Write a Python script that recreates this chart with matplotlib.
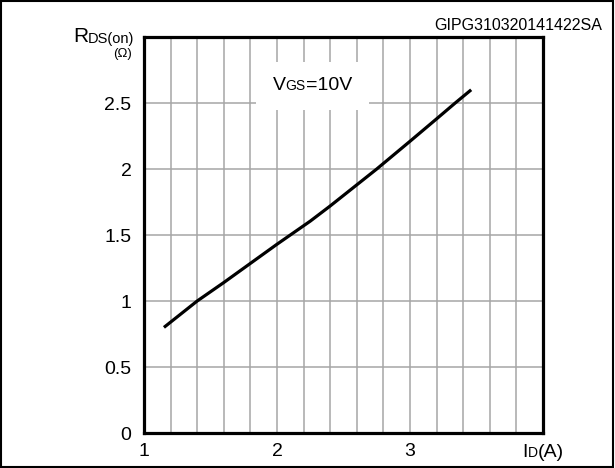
import matplotlib
matplotlib.use("Agg")
import matplotlib.pyplot as plt
import matplotlib.patches as patches
from matplotlib.offsetbox import TextArea, HPacker, AnnotationBbox
import numpy as np

# ==========================================
# DATA
# ==========================================

id_amps = [1.15, 1.40, 1.60, 1.80, 2.00, 2.10, 2.25, 2.40, 2.55, 2.75, 3.00, 3.20, 3.34, 3.46]
rds_on = [0.80, 1.00, 1.14, 1.285, 1.43, 1.50, 1.605, 1.72, 1.84, 2.00, 2.21, 2.38, 2.50, 2.60]

x_ticks = np.arange(1.0, 4.01, 0.2)
x_labels = ["1", "", "", "", "", "2", "", "", "", "", "3", "", "", "", "", ""]
y_ticks = [0, 0.5, 1, 1.5, 2, 2.5, 3]
y_labels = ["0", "0.5", "1", "1.5", "2", "2.5", ""]

code_text = "GIPG310320141422SA"

plt.rcParams["font.family"] = ["Liberation Sans", "DejaVu Sans"]

# ==========================================
# FIGURE
# ==========================================

fig = plt.figure(figsize=(6.15, 4.68), dpi=100)
ax = fig.add_axes([144 / 615, 35 / 468, 399 / 615, 396 / 468])

ax.plot(id_amps, rds_on, color="black", linewidth=2.3, solid_capstyle="butt",
        solid_joinstyle="round", zorder=3)

ax.set_xlim(1, 4)
ax.set_ylim(0, 3)
ax.set_xticks(x_ticks)
ax.set_xticklabels(x_labels)
ax.set_yticks(y_ticks)
ax.set_yticklabels(y_labels)
ax.tick_params(length=0, labelsize=14, pad=7)
ax.tick_params(axis="y", pad=9)

ax.set_axisbelow(True)
ax.grid(True, color="#a6a6a6", linewidth=1.1)

for s in ax.spines.values():
    s.set_linewidth(2.3)

# white box behind the VGS label
box = patches.Rectangle((1.84, 2.45), 0.85, 0.36, facecolor="white",
                        edgecolor="none", zorder=1)
ax.add_patch(box)

vgs = HPacker(children=[TextArea("V", textprops=dict(size=14)),
                        TextArea("GS", textprops=dict(size=10)),
                        TextArea("=10V", textprops=dict(size=14))],
              align="baseline", pad=0, sep=0)
ax.add_artist(AnnotationBbox(vgs, (2.265, 2.63), xycoords="data",
                             frameon=False, box_alignment=(0.5, 0.5), zorder=4))

# ==========================================
# AXIS LABELS
# ==========================================

r_top = HPacker(children=[TextArea("R", textprops=dict(size=15)),
                          TextArea("DS(on)", textprops=dict(size=10.5)),],
                align="baseline", pad=0, sep=0)
ax.add_artist(AnnotationBbox(r_top, (0, 3), xycoords=ax.get_yaxis_transform(),
                             xybox=(-7, 0), boxcoords="offset points",
                             frameon=False, box_alignment=(1, 0.5),
                             annotation_clip=False))
ax.add_artist(AnnotationBbox(TextArea("(Ω)", textprops=dict(size=9.5)), (0, 3),
                             xycoords=ax.get_yaxis_transform(),
                             xybox=(-9, -12), boxcoords="offset points",
                             frameon=False, box_alignment=(1, 0.5),
                             annotation_clip=False))

id_lab = HPacker(children=[TextArea("I", textprops=dict(size=14)),
                           TextArea("D", textprops=dict(size=10)),
                           TextArea("(A)", textprops=dict(size=14))],
                 align="baseline", pad=0, sep=0)
ax.add_artist(AnnotationBbox(id_lab, (4, 0), xycoords=ax.get_xaxis_transform(),
                             xybox=(0, -14), boxcoords="offset points",
                             frameon=False, box_alignment=(0.5, 0.5),
                             annotation_clip=False))

fig.text(602 / 615, 1 - 25 / 468, code_text, fontsize=11.5, ha="right", va="center")

# ==========================================
# OUTER BORDER
# ==========================================

fig.patches.append(patches.Rectangle((0.002, 0.003), 0.995, 0.994,
                                     transform=fig.transFigure, fill=False,
                                     edgecolor="black", linewidth=1.5))

fig.savefig("out.png", dpi=100)
